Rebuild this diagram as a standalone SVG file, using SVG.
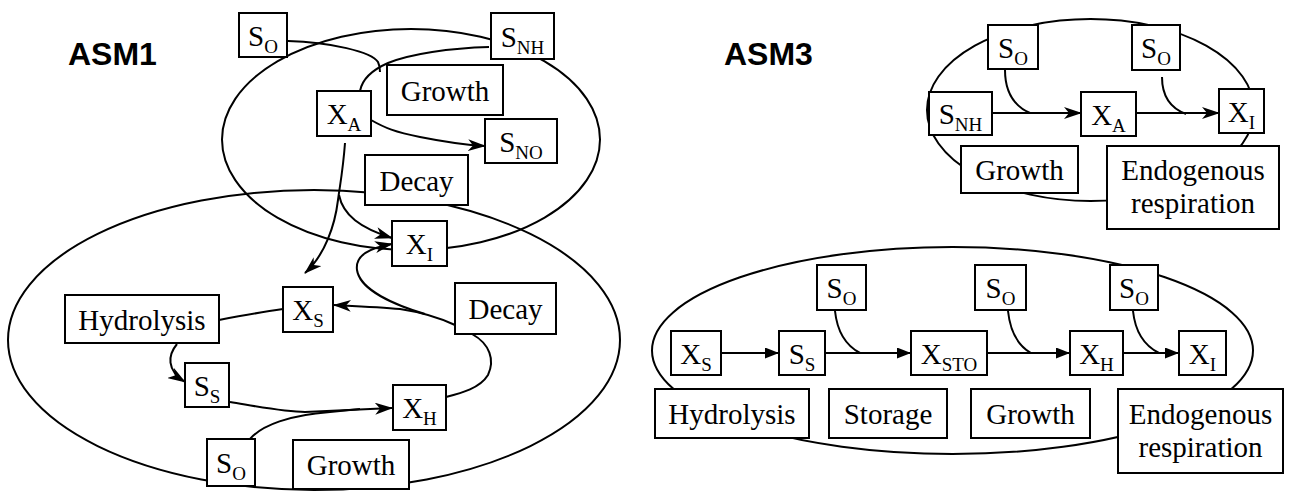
<svg xmlns="http://www.w3.org/2000/svg" width="1289" height="492" viewBox="0 0 1289 492">
<defs>
<style>
.bx{fill:#fff;stroke:#000;stroke-width:2}
.el{fill:none;stroke:#000;stroke-width:2}
.ln{fill:none;stroke:#000;stroke-width:2}
.t{font-family:'Liberation Serif','DejaVu Serif',serif;font-size:29px;text-anchor:middle;fill:#000}
.sub{font-size:19px}
.ttl{font-family:'Liberation Sans',Arial,sans-serif;font-size:32px;font-weight:bold;fill:#000}
</style>
<marker id="arr" viewBox="0 0 18 12" refX="17" refY="6" markerWidth="18" markerHeight="12" orient="auto" markerUnits="userSpaceOnUse"><path d="M0,0 L18,6 L0,12 L5,6 z" fill="#000"/></marker>
<marker id="tri" viewBox="0 0 14 11" refX="14" refY="5.5" markerWidth="14" markerHeight="11" orient="auto" markerUnits="userSpaceOnUse"><path d="M0,0 L14,5.5 L0,11 z" fill="#000"/></marker>
</defs>
<rect width="1289" height="492" fill="#fff"/>
<text class="ttl" x="68" y="65">ASM1</text>
<text class="ttl" x="724" y="65">ASM3</text>
<g id="containers">
<ellipse class="el" cx="411" cy="139.5" rx="189" ry="110.5"/>
<ellipse class="el" cx="314" cy="340" rx="306" ry="150"/>
<ellipse class="el" cx="1090.5" cy="110" rx="163.5" ry="91"/>
<ellipse class="el" cx="952.5" cy="350.5" rx="300.5" ry="103.5"/>
</g>
<g id="connectors">
<path class="ln" d="M288,41 C330,42 372,52 378,62 C380,66 380,70 380,72"/>
<path class="ln" d="M489,47 C450,48 410,54 388,63 C372,70 362,80 360,91"/>
<path class="ln" d="M371,120 C385,128 395,132 420,137 C445,142 465,145 485,146" marker-end="url(#arr)"/>
<path class="ln" d="M345,143 C343,170 340,185 338,200 C335,225 325,255 305,273" marker-end="url(#arr)"/>
<path class="ln" d="M339,195 C343,215 360,228 392,238" marker-end="url(#arr)"/>
<path class="ln" d="M455,325 C440,318 420,312 400,309 C380,307 355,306 334,305" marker-end="url(#arr)"/>
<path class="ln" d="M425,314 C395,305 360,290 357,270 C355,255 370,248 392,244" marker-end="url(#arr)"/>
<path class="ln" d="M472,334 C490,344 495,360 488,375 C480,388 462,393 446,397"/>
<path class="ln" d="M219,320 C240,316 262,312 283,309"/>
<path class="ln" d="M177,344 C168,355 166,370 185,382" marker-end="url(#arr)"/>
<path class="ln" d="M230,402 C260,407 285,412 305,412 L392,408" marker-end="url(#arr)"/>
<path class="ln" d="M250,439 C262,425 290,415 330,412 L360,409"/>
<path class="ln" d="M992,113 L1081,113" marker-end="url(#arr)"/>
<path class="ln" d="M1136,113 L1219,113" marker-end="url(#arr)"/>
<path class="ln" d="M1005,70 C1005,90 1012,105 1030,113"/>
<path class="ln" d="M1162,77 C1162,95 1170,108 1186,114"/>
<path class="ln" d="M721,353 L779,353" marker-end="url(#tri)"/>
<path class="ln" d="M825,353 L911,353" marker-end="url(#tri)"/>
<path class="ln" d="M987,353 L1070,353" marker-end="url(#tri)"/>
<path class="ln" d="M1123,353 L1179,353" marker-end="url(#tri)"/>
<path class="ln" d="M835,311 C837,330 845,345 860,353"/>
<path class="ln" d="M1008,311 C1010,330 1017,345 1031,353"/>
<path class="ln" d="M1133,311 C1135,330 1143,345 1159,353"/>
</g>
<g id="asm1-SO-top"><rect class="bx" x="239" y="13" width="48" height="44"/><text class="t" x="263" y="45.5">S<tspan class="sub" dy="7">O</tspan></text></g>
<g id="asm1-SNH"><rect class="bx" x="491" y="13" width="63" height="46"/><text class="t" x="522.5" y="46.5">S<tspan class="sub" dy="7">NH</tspan></text></g>
<g id="asm1-growth-top"><rect class="bx" x="387" y="65" width="116" height="50"/><text class="t" x="445" y="100.5">Growth</text></g>
<g id="asm1-XA"><rect class="bx" x="317" y="91" width="54" height="45"/><text class="t" x="344" y="124">X<tspan class="sub" dy="7">A</tspan></text></g>
<g id="asm1-SNO"><rect class="bx" x="485" y="119" width="72" height="44"/><text class="t" x="521" y="151.5">S<tspan class="sub" dy="7">NO</tspan></text></g>
<g id="asm1-decay-top"><rect class="bx" x="365" y="155" width="103" height="50"/><text class="t" x="416.5" y="190.5">Decay</text></g>
<g id="asm1-XI"><rect class="bx" x="392" y="221" width="55" height="45"/><text class="t" x="419.5" y="254">X<tspan class="sub" dy="7">I</tspan></text></g>
<g id="asm1-XS"><rect class="bx" x="283" y="287" width="50" height="45"/><text class="t" x="308" y="320">X<tspan class="sub" dy="7">S</tspan></text></g>
<g id="asm1-decay-bottom"><rect class="bx" x="455" y="283" width="101" height="51"/><text class="t" x="505.5" y="319">Decay</text></g>
<g id="asm1-hydrolysis"><rect class="bx" x="65" y="295" width="154" height="48"/><text class="t" x="142" y="329.5">Hydrolysis</text></g>
<g id="asm1-SS"><rect class="bx" x="185" y="363" width="44" height="44"/><text class="t" x="207" y="395.5">S<tspan class="sub" dy="7">S</tspan></text></g>
<g id="asm1-XH"><rect class="bx" x="393" y="385" width="53" height="45"/><text class="t" x="419.5" y="418">X<tspan class="sub" dy="7">H</tspan></text></g>
<g id="asm1-SO-bottom"><rect class="bx" x="207" y="439" width="48" height="47"/><text class="t" x="231" y="473">S<tspan class="sub" dy="7">O</tspan></text></g>
<g id="asm1-growth-bottom"><rect class="bx" x="293" y="440" width="116" height="49"/><text class="t" x="351" y="475">Growth</text></g>
<g id="asm3-SO-a"><rect class="bx" x="988" y="25" width="50" height="44"/><text class="t" x="1013" y="57.5">S<tspan class="sub" dy="7">O</tspan></text></g>
<g id="asm3-SO-b"><rect class="bx" x="1132" y="25" width="48" height="45"/><text class="t" x="1156" y="58">S<tspan class="sub" dy="7">O</tspan></text></g>
<g id="asm3-SNH"><rect class="bx" x="929" y="92" width="63" height="43"/><text class="t" x="960.5" y="124">S<tspan class="sub" dy="7">NH</tspan></text></g>
<g id="asm3-XA"><rect class="bx" x="1081" y="92" width="55" height="44"/><text class="t" x="1108.5" y="124.5">X<tspan class="sub" dy="7">A</tspan></text></g>
<g id="asm3-XI-top"><rect class="bx" x="1219" y="89" width="45" height="44"/><text class="t" x="1241.5" y="121.5">X<tspan class="sub" dy="7">I</tspan></text></g>
<g id="asm3-growth-top"><rect class="bx" x="961" y="146" width="117" height="47"/><text class="t" x="1019.5" y="180">Growth</text></g>
<g id="asm3-endo-top"><rect class="bx" x="1107" y="146" width="172" height="83"/><text class="t" x="1193" y="180">Endogenous</text><text class="t" x="1193" y="213">respiration</text></g>
<g id="asm3-SO-c"><rect class="bx" x="817" y="265" width="49" height="45"/><text class="t" x="841.5" y="298">S<tspan class="sub" dy="7">O</tspan></text></g>
<g id="asm3-SO-d"><rect class="bx" x="975" y="265" width="51" height="45"/><text class="t" x="1000.5" y="298">S<tspan class="sub" dy="7">O</tspan></text></g>
<g id="asm3-SO-e"><rect class="bx" x="1110" y="265" width="48" height="45"/><text class="t" x="1134" y="298">S<tspan class="sub" dy="7">O</tspan></text></g>
<g id="asm3-XS"><rect class="bx" x="671" y="331" width="50" height="44"/><text class="t" x="696" y="363.5">X<tspan class="sub" dy="7">S</tspan></text></g>
<g id="asm3-SS"><rect class="bx" x="779" y="331" width="46" height="44"/><text class="t" x="802" y="363.5">S<tspan class="sub" dy="7">S</tspan></text></g>
<g id="asm3-XSTO"><rect class="bx" x="911" y="331" width="76" height="44"/><text class="t" x="949" y="363.5">X<tspan class="sub" dy="7">STO</tspan></text></g>
<g id="asm3-XH"><rect class="bx" x="1070" y="331" width="53" height="44"/><text class="t" x="1096.5" y="363.5">X<tspan class="sub" dy="7">H</tspan></text></g>
<g id="asm3-XI-bottom"><rect class="bx" x="1179" y="331" width="47" height="44"/><text class="t" x="1202.5" y="363.5">X<tspan class="sub" dy="7">I</tspan></text></g>
<g id="asm3-hydrolysis"><rect class="bx" x="655" y="389" width="154" height="49"/><text class="t" x="732" y="424">Hydrolysis</text></g>
<g id="asm3-storage"><rect class="bx" x="829" y="389" width="118" height="49"/><text class="t" x="888" y="424">Storage</text></g>
<g id="asm3-growth-bottom"><rect class="bx" x="971" y="389" width="119" height="49"/><text class="t" x="1030.5" y="424">Growth</text></g>
<g id="asm3-endo-bottom"><rect class="bx" x="1118" y="389" width="165" height="84"/><text class="t" x="1200.5" y="424">Endogenous</text><text class="t" x="1200.5" y="457">respiration</text></g>
</svg>
